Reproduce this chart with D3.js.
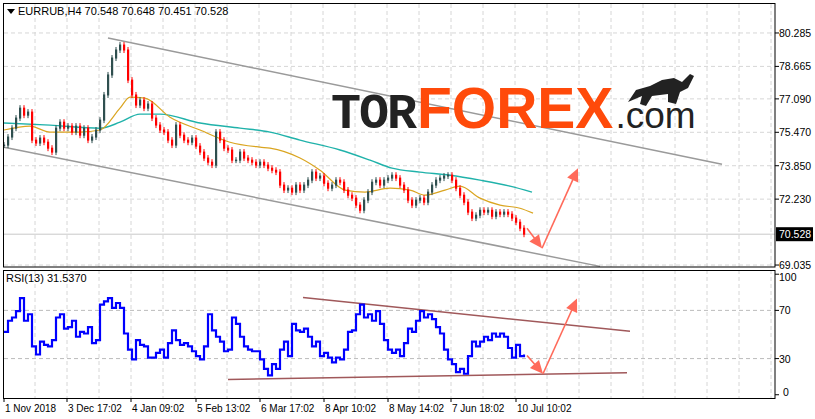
<!DOCTYPE html><html><head><meta charset="utf-8">
<script src="https://cdn.jsdelivr.net/npm/d3@7"></script>
<style>body{margin:0;background:#fff}svg{display:block;font-family:"Liberation Sans",sans-serif}</style></head><body>
<svg id="c" width="815" height="419"></svg>
<script>
const closes=[74.85,75.24,75.67,76.16,76.64,76.30,76.45,75.09,74.95,75.19,74.99,74.70,74.51,75.67,75.96,75.67,75.77,75.48,75.77,75.33,75.67,75.09,75.24,75.58,76.06,77.28,78.25,79.07,79.46,79.70,79.46,78.00,77.28,76.79,77.03,76.64,76.84,76.16,75.82,75.58,75.48,75.09,74.85,75.82,75.33,75.09,74.99,75.19,74.80,74.51,74.22,74.02,73.88,75.48,75.09,74.70,74.61,74.12,74.12,74.51,74.22,74.12,74.02,73.88,74.02,73.88,73.73,73.63,73.54,72.91,72.67,72.76,72.57,72.91,72.67,72.91,73.15,73.54,73.25,73.35,73.00,72.76,72.91,73.15,73.05,72.67,72.42,72.28,71.94,71.69,72.18,72.57,73.05,73.15,72.91,73.15,73.25,73.39,73.25,72.91,72.67,72.18,71.94,72.18,72.28,72.08,72.57,72.91,73.15,73.25,73.35,73.39,73.15,72.76,72.42,72.08,71.60,71.31,71.45,71.69,71.60,71.69,71.40,71.60,71.50,71.60,71.50,71.31,71.11,70.82,70.53];
const rsi=[52.1,61.4,64.1,69.4,80.1,61.4,66.8,40.1,33.4,44.1,41.4,40.1,45.4,64.1,66.8,54.8,56.1,61.4,48.1,52.1,50.8,56.1,42.8,45.4,74.8,77.4,80.1,72.1,76.1,72.1,50.8,37.4,29.4,45.4,41.4,40.1,30.8,30.8,34.8,37.4,30.8,42.8,53.4,45.4,41.4,42.8,40.1,36.1,32.1,29.4,40.1,66.8,53.4,48.1,44.1,36.1,37.4,64.1,58.8,48.1,40.1,37.4,36.1,36.1,29.4,21.4,16.1,25.4,21.4,37.4,44.1,32.1,58.8,53.4,52.1,54.8,48.1,40.1,44.1,32.1,34.8,30.8,26.8,30.8,29.4,37.4,52.1,53.4,66.8,74.8,64.1,66.8,61.4,69.4,58.8,45.4,37.4,34.8,37.4,32.1,42.8,54.8,52.1,61.4,69.4,64.1,66.8,62.8,56.1,50.8,37.4,29.4,25.4,18.8,21.4,17.4,32.1,44.1,40.1,44.1,48.1,45.4,50.8,48.1,50.8,48.1,38.8,30.8,41.4,32.1,33.4];
const maSlowIdx=[0,11.5,24,29,34,39,49,59,66.5,74,84,91.5,97,104,111.5,119,126.5,132];
const maSlow=[75.92,75.82,75.67,75.96,76.35,76.35,75.92,75.67,75.48,75.09,74.61,74.12,73.73,73.54,73.39,73.15,72.86,72.57];
const maFastIdx=[0,6.5,11.5,19,24,29,31.5,35.25,41.5,49,56.5,64,66.5,74,79,85.25,90.25,96.5,101.5,105.25,110.25,114,119,124,129,132.25];
const maFast=[75.58,75.77,75.48,75.48,75.58,76.64,77.18,77.13,76.20,75.58,74.99,74.75,74.70,74.22,73.63,72.67,72.57,72.76,72.67,72.42,72.67,72.86,72.28,71.94,71.79,71.55];
const priceTicks=[80.285,78.665,77.090,75.470,73.850,72.230,69.035];
const lastLabel="70.528";
const rsiTicks=[100,70,30,0];
const dateLabels=["1 Nov 2018","3 Dec 17:02","4 Jan 09:02","5 Feb 13:02","6 Mar 17:02","8 Apr 10:02","8 May 14:02","7 Jun 18:02","10 Jul 10:02"];
const dateIdx=[0,15.75,31.75,48,64,80,96,111.75,128];
const chanUpper=[[26,80.04],[179.5,73.92]], chanLower=[[0,74.75],[149,68.97]];
const priceArrow=[[130.75,70.82],[134.5,69.85],[143.5,73.73]];
const rsiUpper=[[74.75,80.6],[156.5,52.6]], rsiLower=[[56,12.6],[155.75,18.2]];
const rsiArrow=[[130.75,32.6],[134.75,17.4],[143.25,79.8]];

const svg=d3.select("#c");
const L=4,R=775,T=4,B1=267,T2=270,B2=398;
const x=d3.scaleLinear().domain([0,192]).range([4,772]);
const y=d3.scaleLinear().domain([68.94,81.69]).range([B1,T]);
const yr=d3.scaleLinear().domain([-2.7,103.5]).range([B2,T2]);
const grid="#d6d6d6";
const g=svg.append("g");
for(let gx=35;gx<R;gx+=32){g.append("line").attr("x1",gx).attr("x2",gx).attr("y1",T).attr("y2",B1).attr("stroke",grid).attr("stroke-dasharray","4,3");
 g.append("line").attr("x1",gx).attr("x2",gx).attr("y1",T2).attr("y2",B2).attr("stroke",grid).attr("stroke-dasharray","4,3");}
priceTicks.forEach(p=>g.append("line").attr("x1",L).attr("x2",R).attr("y1",y(p)).attr("y2",y(p)).attr("stroke",grid).attr("stroke-dasharray","4,3"));
[70,30].forEach(p=>g.append("line").attr("x1",L).attr("x2",R).attr("y1",yr(p)).attr("y2",yr(p)).attr("stroke","#bbb").attr("stroke-dasharray","4,3"));
const last=closes[closes.length-1];
g.append("line").attr("x1",L).attr("x2",R).attr("y1",y(last)).attr("y2",y(last)).attr("stroke","#c8c8c8");
const ln=(pts,sx,sy)=>d3.line().x(d=>sx(d[0])).y(d=>sy(d[1]))(pts);
[chanUpper,chanLower].forEach(c=>g.append("path").attr("d",ln(c,x,y)).attr("stroke","#9a9a9a").attr("stroke-width",1.5).attr("fill","none"));
const wm=g.append("text").attr("x",331).attr("y",128);
wm.append("tspan").text("TOR").attr("font-family","Liberation Mono").attr("font-weight","bold").attr("font-size",50).attr("fill","#222").attr("letter-spacing",-2);
wm.append("tspan").text("FOREX").attr("font-family","Liberation Sans").attr("font-weight","bold").attr("font-size",57).attr("fill","#ff4a0a").attr("dx",2);
wm.append("tspan").text(".com").attr("font-family","Liberation Sans").attr("font-size",37).attr("fill","#222").attr("dx",2);
g.append("path").attr("d","M628,102 L636,90 L650,86 L662,80 L674,78 L682,82 L690,74 L694,76 L688,88 L680,92 L676,104 L668,102 L668,94 L652,96 L646,106 L640,104 L642,96 Z").attr("fill","#222");
const mline=d3.line().curve(d3.curveMonotoneX).x(d=>x(d[0])).y(d=>y(d[1]));
g.append("path").attr("d",mline(maSlowIdx.map((v,i)=>[v,maSlow[i]]))).attr("stroke","#20b2aa").attr("stroke-width",1.4).attr("fill","none");
g.append("path").attr("d",mline(maFastIdx.map((v,i)=>[v,maFast[i]]))).attr("stroke","#daa520").attr("stroke-width",1.2).attr("fill","none");
closes.forEach((c,i)=>{const o=i?closes[i-1]:c;const up=c>=o;
 const y1=y(Math.max(o,c)),y2=y(Math.min(o,c));const col=up?"#2f4f4f":"#ff0000";
 g.append("line").attr("x1",x(i)).attr("x2",x(i)).attr("y1",y1-3).attr("y2",y2+3).attr("stroke",col).attr("stroke-width",1);
 g.append("rect").attr("x",x(i)-1).attr("width",2.2).attr("y",y1-0.5).attr("height",Math.max(1.5,y2-y1+1)).attr("fill",col);});
function arrow(pts,sx,sy){const p=pts.map(d=>[sx(d[0]),sy(d[1])]);
 for(let k=0;k<2;k++){const a=p[k],b=p[k+1];const ang=Math.atan2(b[1]-a[1],b[0]-a[0]);
  g.append("line").attr("x1",a[0]).attr("y1",a[1]).attr("x2",b[0]-9*Math.cos(ang)).attr("y2",b[1]-9*Math.sin(ang)).attr("stroke","#ff6a5a").attr("stroke-width",1.6);
  const h=13,w=6;const bx=b[0]-h*Math.cos(ang),by=b[1]-h*Math.sin(ang);
  g.append("path").attr("d",`M${b[0]},${b[1]}L${bx+w*Math.sin(ang)},${by-w*Math.cos(ang)}L${bx-w*Math.sin(ang)},${by+w*Math.cos(ang)}Z`).attr("fill","#ff6a5a");}}
arrow(priceArrow,x,y);
[rsiUpper,rsiLower].forEach(c=>g.append("path").attr("d",ln(c,x,yr)).attr("stroke","#a0585a").attr("stroke-width",1.5).attr("fill","none"));
g.append("path").attr("d",d3.line().curve(d3.curveStepAfter).x((d,i)=>x(i)).y(d=>yr(d))(rsi)).attr("stroke","#0000ff").attr("stroke-width",2.2).attr("fill","none");
arrow(rsiArrow,x,yr);
g.append("rect").attr("x",3.5).attr("y",3.5).attr("width",R-3.5).attr("height",B1-3.5).attr("fill","none").attr("stroke","#000");
g.append("rect").attr("x",3.5).attr("y",T2+0.5).attr("width",R-3.5).attr("height",B2-T2).attr("fill","none").attr("stroke","#000");
priceTicks.forEach(p=>{g.append("line").attr("x1",R).attr("x2",R+4).attr("y1",y(p)).attr("y2",y(p)).attr("stroke","#000");
 g.append("text").attr("x",779).attr("y",y(p)+4).attr("font-size",10.5).text(p.toFixed(3));});
g.append("rect").attr("x",R+1).attr("y",y(last)-7).attr("width",37).attr("height",14).attr("fill","#000");
g.append("text").attr("x",779).attr("y",y(last)+4).attr("font-size",10.5).attr("fill","#fff").text(lastLabel);
rsiTicks.forEach(p=>{const yy=Math.min(Math.max(yr(p),T2+7),B2-6);
 g.append("line").attr("x1",R).attr("x2",R+4).attr("y1",yr(p)).attr("y2",yr(p)).attr("stroke","#000");
 g.append("text").attr("x",779+(p<10?4:0)).attr("y",yy+4).attr("font-size",10.5).text(p);});
dateIdx.forEach((d,i)=>{g.append("line").attr("x1",x(d)).attr("x2",x(d)).attr("y1",B2).attr("y2",B2+4).attr("stroke","#000");
 g.append("text").attr("x",x(d)+1).attr("y",412).attr("font-size",10).text(dateLabels[i]);});
g.append("path").attr("d","M7,9 L15,9 L11,14 Z").attr("fill","#000");
g.append("text").attr("x",18).attr("y",15).attr("font-size",11).text("EURRUB,H4  70.548 70.648 70.451 70.528");
g.append("text").attr("x",6).attr("y",282).attr("font-size",11).text("RSI(13) 31.5370");
</script></body></html>
